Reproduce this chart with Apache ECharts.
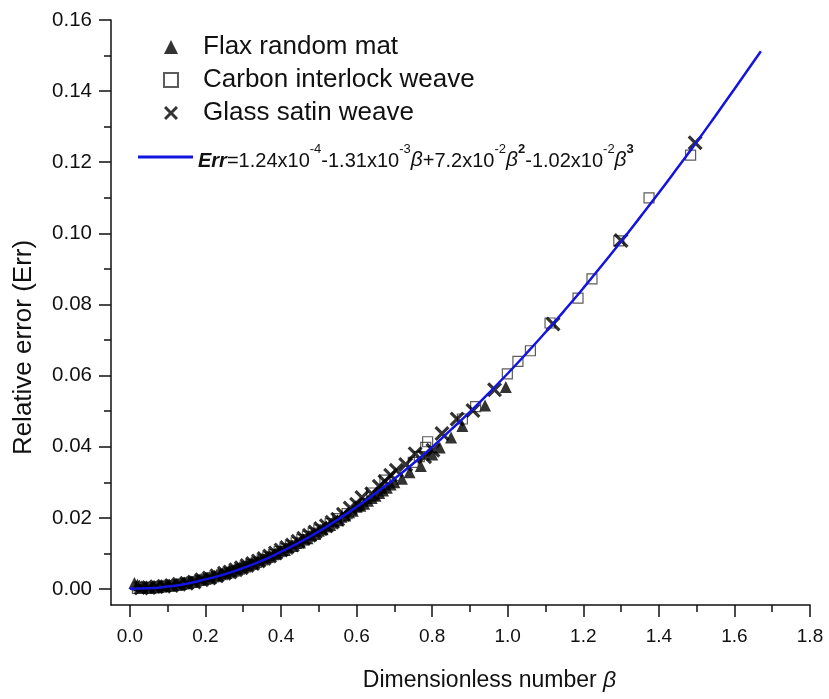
<!DOCTYPE html>
<html>
<head>
<meta charset="utf-8">
<script src="https://cdn.jsdelivr.net/npm/echarts@6/dist/echarts.min.js"></script>
<style>html,body{margin:0;padding:0;background:#fff;}#c{width:829px;height:699px;}</style>
</head>
<body>
<div id="c"></div>
<script>
// ---- tick values / labels ----
var xMajorTicks = [0, 0.2, 0.4, 0.6, 0.8, 1.0, 1.2, 1.4, 1.6, 1.8];
var xTickLabels = ['0.0','0.2','0.4','0.6','0.8','1.0','1.2','1.4','1.6','1.8'];
var xMinorTicks = [0.1, 0.3, 0.5, 0.7, 0.9, 1.1, 1.3, 1.5, 1.7];
var yMajorTicks = [0, 0.02, 0.04, 0.06, 0.08, 0.10, 0.12, 0.14, 0.16];
var yTickLabels = ['0.00','0.02','0.04','0.06','0.08','0.10','0.12','0.14','0.16'];
var yMinorTicks = [0.01, 0.03, 0.05, 0.07, 0.09, 0.11, 0.13, 0.15];

// ---- series names ----
var flaxName = 'Flax random mat';
var carbonName = 'Carbon interlock weave';
var glassName = 'Glass satin weave';
var fitName = 'fit';

// ---- Flax random mat (triangles): beta, Err ----
var flaxBeta = [0.012,0.02,0.025,0.03,0.035,0.04,0.045,0.05,0.055,0.06,0.065,0.07,0.075,0.08,0.085,0.09,0.095,0.10,0.105,0.11,0.115,0.12,0.125,0.13,0.135,0.14,0.145,0.15,0.155,0.16,0.165,0.17,0.175,0.18,0.185,0.19,0.195,0.20,0.205,0.21,0.215,0.22,0.225,0.23,0.235,0.24,0.245,0.25,0.255,0.26,0.265,0.27,0.275,0.28,0.285,0.29,0.295,0.30,0.305,0.31,0.315,0.32,0.325,0.33,0.34,0.345,0.35,0.36,0.365,0.37,0.38,0.385,0.39,0.40,0.41,0.42,0.43,0.44,0.45,0.46,0.47,0.48,0.49,0.50,0.51,0.52,0.53,0.54,0.55,0.56,0.57,0.58,0.59,0.60,0.61,0.62,0.63,0.64,0.65,0.66,0.67,0.68,0.69,0.70,0.72,0.74,0.77,0.80,0.82,0.85,0.88,0.94,0.995];
var flaxErr  = [0.0017,0.0012,0.0010,0.0008,0.0005,0.0006,0.0004,0.0006,0.0004,0.0007,0.0005,0.0008,0.0006,0.0009,0.0008,0.0010,0.0009,0.0011,0.0009,0.0012,0.0011,0.0013,0.0012,0.0015,0.0014,0.0017,0.0016,0.0019,0.0018,0.0021,0.0020,0.0023,0.0024,0.0026,0.0025,0.0028,0.0029,0.0031,0.0030,0.0034,0.0033,0.0036,0.0037,0.0040,0.0040,0.0043,0.0044,0.0046,0.0046,0.0049,0.0050,0.0052,0.0053,0.0057,0.0058,0.0060,0.0061,0.0064,0.0064,0.0068,0.0069,0.0072,0.0072,0.0076,0.0080,0.0081,0.0085,0.0089,0.0090,0.0094,0.0098,0.0099,0.0103,0.0108,0.0110,0.0118,0.0121,0.0129,0.0131,0.0139,0.0143,0.0151,0.0155,0.0164,0.0168,0.0176,0.0180,0.0190,0.0193,0.0203,0.0207,0.0216,0.0220,0.0231,0.0234,0.0240,0.0248,0.0256,0.0262,0.0270,0.0277,0.0285,0.0294,0.0300,0.0310,0.0328,0.0346,0.0378,0.0398,0.0426,0.0458,0.0516,0.0568];

// ---- Carbon interlock weave (squares) ----
var carbonBeta = [0.02,0.035,0.05,0.065,0.08,0.095,0.11,0.125,0.14,0.155,0.17,0.185,0.20,0.215,0.23,0.245,0.26,0.275,0.29,0.305,0.32,0.335,0.35,0.365,0.38,0.395,0.41,0.425,0.44,0.455,0.47,0.485,0.50,0.53,0.55,0.575,0.64,0.675,0.75,0.766,0.783,0.788,0.880,0.915,0.999,1.027,1.060,1.112,1.186,1.223,1.294,1.374,1.484];
var carbonErr  = [0.0002,0.0002,0.0003,0.0004,0.0006,0.0007,0.0009,0.0011,0.0014,0.0017,0.0020,0.0024,0.0027,0.0031,0.0035,0.0040,0.0045,0.0050,0.0056,0.0062,0.0069,0.0075,0.0082,0.0090,0.0097,0.0105,0.0113,0.0121,0.0130,0.0139,0.0148,0.0157,0.0166,0.0184,0.0198,0.0212,0.0270,0.0306,0.0356,0.0372,0.0398,0.0414,0.0478,0.0513,0.0605,0.0640,0.0670,0.0748,0.0818,0.0872,0.0979,0.1100,0.1220];

// ---- Glass satin weave (crosses) ----
var glassBeta = [0.03,0.05,0.07,0.09,0.11,0.13,0.15,0.17,0.19,0.21,0.23,0.25,0.265,0.28,0.295,0.31,0.325,0.34,0.355,0.37,0.385,0.40,0.415,0.43,0.445,0.46,0.475,0.49,0.505,0.52,0.535,0.55,0.565,0.583,0.60,0.614,0.64,0.66,0.675,0.69,0.705,0.73,0.755,0.78,0.802,0.826,0.866,0.908,0.965,1.120,1.300,1.496];
var glassErr  = [0.0003,0.0004,0.0006,0.0008,0.0010,0.0013,0.0016,0.0020,0.0026,0.0031,0.0037,0.0044,0.0048,0.0054,0.0060,0.0066,0.0072,0.0079,0.0086,0.0093,0.0101,0.0110,0.0117,0.0124,0.0134,0.0143,0.0151,0.0160,0.0170,0.0178,0.0188,0.0196,0.0210,0.0228,0.0238,0.0257,0.0268,0.0289,0.0302,0.0320,0.0334,0.0350,0.0380,0.0372,0.0390,0.0437,0.0478,0.0502,0.0560,0.0745,0.0980,0.1255];

// ---- fitted curve ----
var fitBeta = [0,0.05,0.10,0.15,0.20,0.25,0.30,0.35,0.40,0.45,0.50,0.55,0.60,0.65,0.70,0.75,0.80,0.85,0.90,0.95,1.00,1.05,1.10,1.15,1.20,1.25,1.30,1.35,1.40,1.45,1.50,1.55,1.60,1.65,1.67];
var fitErr  = [0.0001,0.0002,0.0007,0.0015,0.0027,0.0041,0.0059,0.0080,0.0105,0.0132,0.0162,0.0195,0.0231,0.0269,0.0310,0.0353,0.0399,0.0448,0.0498,0.0551,0.0606,0.0663,0.0722,0.0783,0.0846,0.0911,0.0977,0.1045,0.1114,0.1185,0.1257,0.1331,0.1406,0.1482,0.1512];

function zip(a, b) { return a.map(function (v, i) { return [v, b[i]]; }); }

var FONT = '"Liberation Sans", Arial, sans-serif';
var crossPath = 'path://M0,1.5 L1.5,0 L5,3.5 L8.5,0 L10,1.5 L6.5,5 L10,8.5 L8.5,10 L5,6.5 L1.5,10 L0,8.5 L3.5,5 Z';

var chart = echarts.init(document.getElementById('c'), null, {renderer: 'canvas'});

var xMin = -0.05, xMax = 1.8, yMin = -0.0045, yMax = 0.16;

var option = {
  animation: false,
  backgroundColor: '#fff',
  grid: {left: 111, right: 19, top: 20, bottom: 94, containLabel: false},
  legend: [
    {
      data: [flaxName, carbonName, glassName],
      orient: 'vertical',
      left: 158, top: 29,
      itemWidth: 14, itemHeight: 14, itemGap: 7,
      selectedMode: false,
      formatter: function (name) { return '{s|}{t|' + name + '}'; },
      textStyle: {fontFamily: FONT, fontSize: 26, color: '#111',
        rich: {s: {width: 20, height: 10}, t: {fontFamily: FONT, fontSize: 26, color: '#111', lineHeight: 29}}}
    },
    {
      data: [{name: fitName, icon: 'rect'}],
      orient: 'vertical',
      left: 133, top: 138,
      itemWidth: 55, itemHeight: 3, itemGap: 0,
      selectedMode: false,
      formatter: function () {
        return '{bi|Err}{n|=1.24x10}{sup|-4}{n|-1.31x10}{sup|-3}{it|\u03B2}{n|+7.2x10}{sup|-2}{it|\u03B2}{supb|2}{n|-1.02x10}{sup|-2}{it|\u03B2}{supb|3}';
      },
      textStyle: {
        fontFamily: FONT, fontSize: 20, color: '#111',
        rich: {
          bi: {fontFamily: FONT, fontSize: 20, fontWeight: 'bold', fontStyle: 'italic', lineHeight: 28, verticalAlign: 'bottom'},
          n: {fontFamily: FONT, fontSize: 20, lineHeight: 28, verticalAlign: 'bottom'},
          it: {fontFamily: FONT, fontSize: 21, fontStyle: 'italic', lineHeight: 28, verticalAlign: 'bottom'},
          sup: {fontFamily: FONT, fontSize: 13, lineHeight: 14, verticalAlign: 'top'},
          supb: {fontFamily: FONT, fontSize: 13, fontWeight: 'bold', lineHeight: 14, verticalAlign: 'top'}
        }
      }
    }
  ],
  xAxis: [
    {
      type: 'value', min: xMin, max: xMax,
      name: 'Dimensionless number {b|\u03B2}',
      nameLocation: 'middle', nameGap: 64,
      nameTextStyle: {fontFamily: FONT, fontSize: 23, color: '#111', padding: [0, 0, 0, 58],
        rich: {b: {fontFamily: FONT, fontSize: 23, fontStyle: 'italic', color: '#111'}}},
      axisLine: {show: true, onZero: false, lineStyle: {color: '#111', width: 1.5}},
      axisTick: {show: true, inside: false, length: 12, customValues: xMajorTicks, lineStyle: {color: '#111', width: 1.5}},
      axisLabel: {show: true, margin: 22, customValues: xMajorTicks, fontFamily: FONT, fontSize: 19, color: '#111',
        formatter: function (v) { var i = xMajorTicks.findIndex(function (t) { return Math.abs(t - v) < 1e-9; }); return i >= 0 ? xTickLabels[i] : ''; }},
      splitLine: {show: false}
    },
    {
      type: 'value', min: xMin, max: xMax, position: 'bottom', gridIndex: 0,
      axisLine: {show: false, onZero: false},
      axisTick: {show: true, inside: false, length: 7, customValues: xMinorTicks, lineStyle: {color: '#111', width: 1.5}},
      axisLabel: {show: false},
      splitLine: {show: false}
    }
  ],
  yAxis: [
    {
      type: 'value', min: yMin, max: yMax,
      name: 'Relative error (Err)',
      nameLocation: 'middle', nameGap: 74, nameRotate: 90,
      nameTextStyle: {fontFamily: FONT, fontSize: 26, color: '#111', padding: [0, 70, 0, 0]},
      axisLine: {show: true, onZero: false, lineStyle: {color: '#111', width: 1.5}},
      axisTick: {show: true, inside: false, length: 12, customValues: yMajorTicks, lineStyle: {color: '#111', width: 1.5}},
      axisLabel: {show: true, margin: 19, customValues: yMajorTicks, fontFamily: FONT, fontSize: 20.5, color: '#111',
        formatter: function (v) { var i = yMajorTicks.findIndex(function (t) { return Math.abs(t - v) < 1e-9; }); return i >= 0 ? yTickLabels[i] : ''; }},
      splitLine: {show: false}
    },
    {
      type: 'value', min: yMin, max: yMax, position: 'left', gridIndex: 0,
      axisLine: {show: false, onZero: false},
      axisTick: {show: true, inside: false, length: 7, customValues: yMinorTicks, lineStyle: {color: '#111', width: 1.5}},
      axisLabel: {show: false},
      splitLine: {show: false}
    }
  ],
  series: [
    {
      name: flaxName, type: 'scatter', xAxisIndex: 0, yAxisIndex: 0,
      symbol: 'triangle', symbolSize: 12,
      itemStyle: {color: '#000'},
      data: zip(flaxBeta, flaxErr), z: 2
    },
    {
      name: carbonName, type: 'scatter', xAxisIndex: 0, yAxisIndex: 0,
      symbol: 'rect', symbolSize: 10,
      itemStyle: {color: 'rgba(255,255,255,0)', borderColor: '#333', borderWidth: 1.2},
      data: zip(carbonBeta, carbonErr), z: 3
    },
    {
      name: glassName, type: 'scatter', xAxisIndex: 0, yAxisIndex: 0,
      symbol: crossPath, symbolSize: 15,
      itemStyle: {color: '#000'},
      data: zip(glassBeta, glassErr), z: 4
    },
    {
      name: fitName, type: 'line', xAxisIndex: 0, yAxisIndex: 0,
      smooth: true, symbol: 'none', showSymbol: false,
      lineStyle: {color: '#1414e0', width: 2.5},
      itemStyle: {color: '#1414e0'},
      data: zip(fitBeta, fitErr), z: 5
    }
  ]
};
chart.setOption(option);
</script>
</body>
</html>
